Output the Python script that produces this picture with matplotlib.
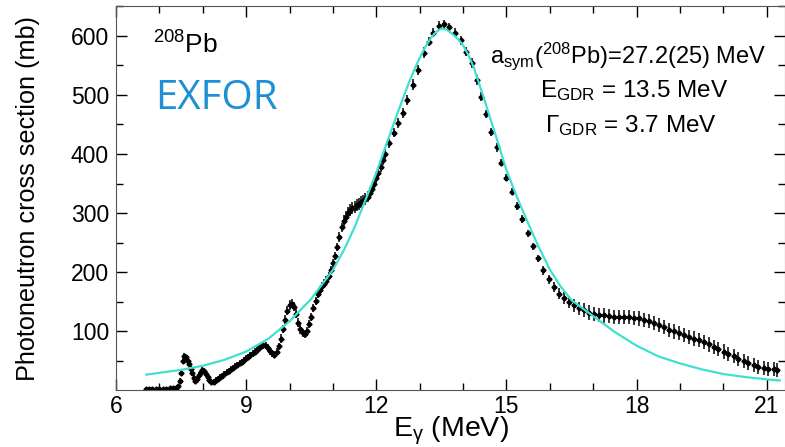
import matplotlib.pyplot as plt
from matplotlib.ticker import MultipleLocator
import numpy as np

plt.rcParams['font.family'] = ['Liberation Sans', 'DejaVu Sans']
plt.rcParams['mathtext.fontset'] = 'custom'
plt.rcParams['mathtext.rm'] = 'Liberation Sans'
plt.rcParams['mathtext.it'] = 'Liberation Sans:italic'
plt.rcParams['mathtext.bf'] = 'Liberation Sans:bold'

# EXFOR data, pygmy / low energy region
e_low = [6.68, 6.76, 6.84, 6.92, 7.00, 7.08, 7.16, 7.24, 7.32, 7.38, 7.43,
         7.47, 7.50, 7.54, 7.57, 7.61, 7.65, 7.69, 7.72, 7.75, 7.79, 7.83,
         7.87, 7.91, 7.95, 7.99, 8.03, 8.07, 8.11, 8.15, 8.20, 8.25, 8.30,
         8.35, 8.40, 8.45, 8.50, 8.55, 8.60, 8.65, 8.70, 8.75, 8.80, 8.85,
         8.90, 8.95, 9.00, 9.05, 9.10, 9.15, 9.20, 9.25, 9.30, 9.35, 9.40,
         9.45, 9.50, 9.55, 9.60, 9.65, 9.70]
s_low = [2, 2, 2, 3, 3, 3, 3, 4, 4, 5, 7,
         17, 30, 50, 58, 56, 50, 45, 37, 29, 21, 17,
         20, 26, 32, 35, 33, 28, 23, 18, 14, 15, 18,
         20, 23, 25, 28, 31, 33, 36, 39, 41, 44, 47,
         49, 52, 55, 57, 60, 63, 66, 69, 72, 75, 77,
         76, 72, 67, 63, 61, 66]
err_low = [2, 2, 2, 2, 2, 2, 2, 2, 2, 2, 3,
           4, 4, 5, 5, 5, 5, 5, 5, 5, 5, 5,
           5, 5, 5, 5, 5, 5, 5, 5, 5, 5, 5,
           5, 5, 5, 5, 5, 5, 5, 5, 5, 5, 5,
           5, 5, 5, 5, 6, 6, 6, 6, 6, 6, 6,
           6, 6, 6, 6, 6, 6]

# rising flank of the GDR
e_rise = [9.75, 9.80, 9.85, 9.90, 9.95, 10.00, 10.05, 10.10, 10.15, 10.20,
          10.25, 10.30, 10.35, 10.40, 10.45, 10.50, 10.55, 10.60, 10.65, 10.70,
          10.75, 10.80, 10.85, 10.90, 10.95, 11.00, 11.05, 11.10, 11.15, 11.20,
          11.25, 11.30, 11.35, 11.40, 11.45, 11.50, 11.55, 11.60, 11.65, 11.70,
          11.75, 11.80, 11.85, 11.90, 11.95, 12.00, 12.05, 12.10, 12.15, 12.20]
s_rise = [75, 88, 104, 120, 135, 145, 147, 142, 130, 115,
          104, 97, 96, 100, 112, 125, 140, 152, 163, 170,
          176, 181, 186, 194, 204, 215, 228, 243, 260, 276,
          287, 294, 300, 305, 308, 311, 314, 316, 319, 321,
          324, 328, 334, 341, 350, 360, 368, 378, 390, 400]
err_rise = [6, 7, 7, 7, 8, 8, 8, 8, 8, 8,
            8, 7, 7, 7, 7, 7, 7, 7, 7, 7,
            7, 7, 7, 7, 7, 7, 7, 7, 8, 8,
            9, 10, 10, 10, 10, 10, 10, 10, 10, 10,
            10, 10, 10, 9, 9, 9, 9, 9, 9, 9]

# peak region
e_peak = [12.30, 12.40, 12.50, 12.61, 12.71, 12.84, 12.96, 13.10, 13.21, 13.30,
          13.44, 13.56, 13.67, 13.81, 13.95, 14.06, 14.20, 14.32, 14.41, 14.53,
          14.64, 14.78, 14.87, 14.99, 15.12, 15.24, 15.35, 15.49, 15.61, 15.72,
          15.84, 15.98, 16.09, 16.21, 16.32]
s_peak = [418, 436, 452, 469, 491, 517, 542, 571, 590, 605,
          617, 619, 615, 605, 592, 573, 554, 525, 497, 468,
          437, 411, 385, 360, 336, 312, 290, 266, 244, 224,
          203, 188, 175, 164, 157]
err_peak = [8, 8, 8, 8, 9, 9, 9, 9, 8, 8,
            7, 7, 7, 8, 8, 8, 8, 8, 7, 7,
            7, 7, 6, 6, 6, 6, 6, 6, 6, 6,
            7, 8, 8, 9, 10]

# high energy tail
e_tail = [16.44, 16.56, 16.67, 16.79, 16.90, 17.02, 17.13, 17.25, 17.36, 17.48,
          17.59, 17.71, 17.82, 17.94, 18.05, 18.17, 18.28, 18.40, 18.51, 18.63,
          18.74, 18.86, 18.97, 19.09, 19.20, 19.32, 19.43, 19.55, 19.66, 19.78,
          19.89, 20.01, 20.12, 20.24, 20.35, 20.47, 20.58, 20.70, 20.81, 20.93,
          21.04, 21.16, 21.25]
s_tail = [150, 144, 139, 136, 132, 130, 128, 127, 126, 125,
          125, 124, 124, 123, 122, 120, 117, 114, 111, 107,
          103, 100, 97, 94, 91, 88, 85, 82, 78, 74,
          70, 66, 62, 58, 54, 50, 46, 43, 40, 38,
          37, 36, 35]
err_tail = [10, 11, 11, 12, 12, 12, 12, 12, 12, 12,
            12, 12, 12, 12, 12, 12, 12, 12, 12, 12,
            12, 12, 12, 12, 12, 12, 12, 12, 12, 12,
            12, 12, 12, 12, 12, 12, 12, 12, 12, 12,
            12, 12, 12]

# Lorentzian fit
fit_e = [6.7, 7.0, 7.5, 8.0, 8.5, 9.0, 9.5, 10.0, 10.5, 11.0, 11.25, 11.5,
         11.75, 12.0, 12.25, 12.5, 12.75, 12.875, 13.0, 13.125, 13.25, 13.375,
         13.5, 13.625, 13.75, 13.875, 14.0, 14.125, 14.25, 14.5, 14.75, 15.0,
         15.25, 15.5, 15.75, 16.0, 16.25, 16.5, 17.0, 17.5, 18.0, 18.5, 19.0,
         19.5, 20.0, 20.5, 21.0, 21.3]
fit_s = [27, 30, 35, 42, 52, 66, 87, 117, 155, 204, 237, 276,
         322, 368, 420, 471, 520, 542, 562, 580, 595, 606,
         612, 610, 603, 595, 584, 567, 546, 490, 432, 373,
         326, 283, 242, 205, 176, 153, 126, 99, 76, 58, 46,
         36, 28, 23, 19, 17]

energy = np.array(e_low + e_rise + e_peak + e_tail)
sigma = np.array(s_low + s_rise + s_peak + s_tail)
err = np.array(err_low + err_rise + err_peak + err_tail)

fig = plt.figure(figsize=(7.85, 4.47), dpi=100)
ax = fig.add_axes([0.1478, 0.1275, 0.852, 0.859])

ax.plot(fit_e, fit_s, color='#40E0D0', lw=1.6, zorder=3)
ax.errorbar(energy, sigma, yerr=err, xerr=0.03, fmt='D', ms=2.6,
            color='black', ecolor='black', elinewidth=1.1, capsize=0, zorder=2)

ax.set_xlim(6, 21.42)
ax.set_ylim(1, 650)
ax.xaxis.set_major_locator(MultipleLocator(3))
ax.xaxis.set_minor_locator(MultipleLocator(1))
ax.set_yticks([100, 200, 300, 400, 500, 600])
ax.yaxis.set_minor_locator(MultipleLocator(50))
ax.tick_params(which='both', direction='in', top=True, right=True, labelsize=16.5)
ax.tick_params(which='major', length=8, width=1)
ax.tick_params(which='minor', length=5, width=1)
ax.tick_params(axis='y', pad=5)
for sp in ax.spines.values():
    sp.set_color('#555555')

ax.set_xlabel(r'E$_{\mathrm{\gamma}}$ (MeV)', fontsize=20.5, va='top')
ax.xaxis.set_label_coords(0.5, -0.064)
ax.set_ylabel('Photoneutron cross section (mb)', fontsize=18.2)
ax.yaxis.set_label_coords(-0.113, 0.5)

ax.text(6.85, 584, r'$^{208}$Pb', fontsize=19, ha='left', va='center')
ax.text(6.9, 494, 'EXFOR', fontsize=29, ha='left', va='center',
        color='#1E8FD5', family=['Open Sans', 'DejaVu Sans'])
ax.text(14.62, 566, r'a$_{\rm sym}$($^{208}$Pb)=27.2(25) MeV', fontsize=17,
        ha='left', va='center')
ax.text(15.77, 507, r'E$_{\rm GDR}$ = 13.5 MeV', fontsize=17.5, ha='left', va='center')
ax.text(15.88, 448, r'$\Gamma_{\rm GDR}$ = 3.7 MeV', fontsize=17.5, ha='left', va='center')

fig.savefig('out.png', dpi=100)
